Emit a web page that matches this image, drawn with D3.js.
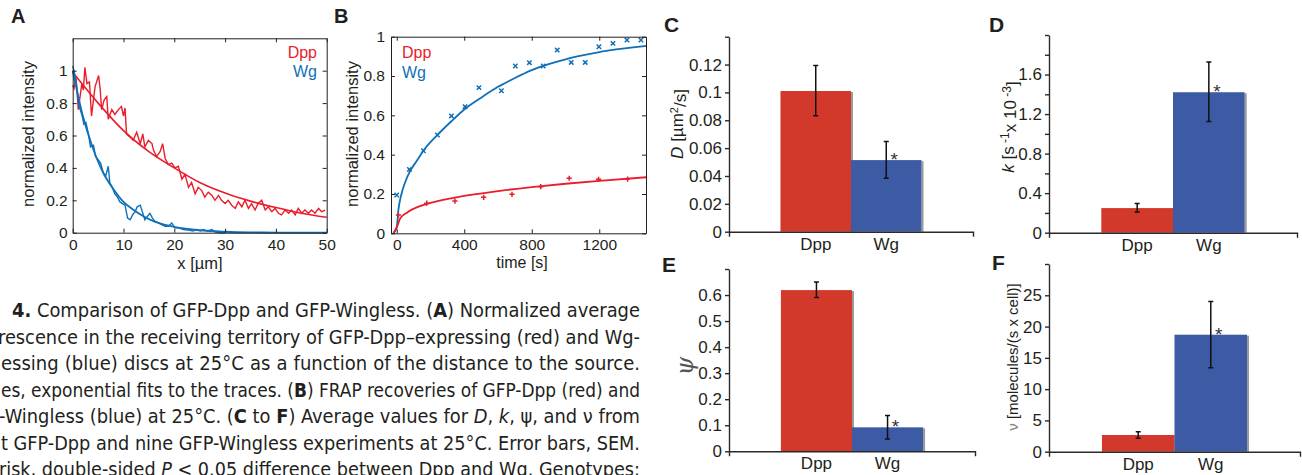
<!DOCTYPE html>
<html>
<head>
<meta charset="utf-8">
<script src="https://cdn.jsdelivr.net/npm/d3@7"></script>
<style>
body { margin: 0; background: #fff; }
svg text { font-family: "Liberation Sans", Arial, Helvetica, sans-serif; fill: #231f20; }
svg text.cap { font-family: "Liberation Sans Narrow", "DejaVu Sans Condensed", "Roboto", sans-serif; }
</style>
</head>
<body>
<svg id="fig" width="1302" height="475"></svg>
<script>
// ---- panel A: intensity profiles [x in um, normalized intensity]
var profDpp = [[0,0.91],[0.26,0.89],[0.66,0.96],[1.1,0.76],[1.8,0.92],[2.1,0.88],[2.4,1.02],[2.8,0.92],[3.3,0.93],[3.7,0.72],
  [4.4,0.90],[5.1,0.97],[5.4,0.89],[5.7,0.76],[6.2,0.82],[6.7,0.84],[7.0,0.70],[7.7,0.76],[8.3,0.73],[9.0,0.76],
  [9.6,0.78],[10.0,0.72],[10.3,0.77],[10.6,0.61],[11.3,0.59],[11.9,0.57],[12.6,0.62],[13.3,0.55],[13.8,0.61],[14.2,0.53],
  [14.9,0.57],[15.6,0.55],[15.9,0.51],[16.5,0.47],[17.2,0.50],[17.7,0.55],[18.2,0.46],[18.8,0.42],[19.5,0.43],[20.1,0.40],
  [20.8,0.41],[21.5,0.33],[22.1,0.36],[22.8,0.28],[23.4,0.31],[24.1,0.24],[24.7,0.28],[25.4,0.26],[26.0,0.22],[26.7,0.25],
  [27.4,0.23],[28.0,0.20],[28.7,0.23],[29.3,0.20],[30.0,0.18],[30.6,0.20],[31.3,0.17],[32.0,0.15],[32.6,0.19],[33.3,0.16],
  [33.9,0.20],[34.6,0.15],[35.2,0.18],[35.9,0.14],[36.5,0.18],[37.2,0.20],[37.9,0.14],[38.5,0.16],[39.2,0.13],[39.8,0.15],
  [40.5,0.12],[41.1,0.11],[41.8,0.14],[42.5,0.12],[43.1,0.14],[43.8,0.11],[44.4,0.15],[45.1,0.12],[45.7,0.14],[46.4,0.12],
  [47.0,0.14],[47.7,0.12],[48.4,0.15],[49.0,0.13],[49.7,0.14]];
var profWg = [[0,1.03],[0.26,1.0],[0.8,0.90],[1.25,0.78],[1.8,0.73],[2.2,0.67],[2.6,0.68],[3.1,0.61],[3.5,0.53],[4.1,0.54],
  [4.5,0.47],[5.0,0.45],[5.5,0.43],[6.0,0.37],[6.5,0.35],[7.0,0.41],[7.3,0.31],[7.9,0.27],[8.3,0.24],[8.8,0.22],
  [9.3,0.19],[9.8,0.18],[10.3,0.17],[10.8,0.09],[11.3,0.08],[11.8,0.11],[12.3,0.13],[12.7,0.16],[13.3,0.17],[13.8,0.12],
  [14.2,0.08],[14.7,0.10],[15.2,0.12],[15.7,0.09],[16.2,0.07],[16.9,0.06],[17.5,0.05],[18.2,0.04],[18.8,0.04],[19.5,0.06],
  [20.1,0.03],[20.8,0.03],[21.8,0.02],[22.8,0.016],[23.7,0.01],[24.4,0.02],[25.1,0.01],[25.7,0.02],[26.4,0.01],[27.4,0.02],
  [28.0,0.005],[29.0,0],[30.0,0]];
// exponential fits
var fitDpp = [[0,0.99],[5,0.80],[10,0.63],[15,0.50],[20,0.40],[25,0.31],[30,0.245],[35,0.195],[40,0.155],[45,0.12],[50,0.095]];
var fitWg = [[0,1.0],[2,0.72],[4,0.52],[6,0.37],[8,0.27],[10,0.19],[12,0.14],[14,0.10],[16,0.07],[18,0.05],[20,0.036],
  [25,0.015],[30,0.006],[35,0.002],[40,0.001],[50,0]];
var aXTicks = [0, 10, 20, 30, 40, 50];
var intTicks = [0, 0.2, 0.4, 0.6, 0.8, 1];

// ---- panel B: FRAP recovery [time s, normalized intensity]
var frapWg = [[0,0.195],[75,0.325],[158,0.42],[241,0.50],[324,0.597],[405,0.644],[487,0.741],[620,0.725],[703,0.851],
  [786,0.868],[868,0.851],[951,0.932],[1034,0.869],[1117,0.869],[1198,0.949],[1281,0.966],[1364,0.983],[1447,0.983]];
var frapDpp = [[10,0.093],[178,0.153],[345,0.164],[515,0.183],[683,0.198],[853,0.237],[1022,0.28],[1196,0.275],[1368,0.276]];
var frapFitWg = [[-20,0],[0,0.03],[10,0.12],[25,0.19],[50,0.26],[75,0.31],[120,0.37],[158,0.42],[241,0.50],[324,0.57],[400,0.63],
  [500,0.69],[600,0.745],[700,0.79],[800,0.83],[900,0.86],[1000,0.885],[1100,0.905],[1200,0.922],[1300,0.935],[1400,0.946],[1477,0.953]];
var frapFitDpp = [[-20,0.0],[0,0.03],[20,0.075],[60,0.105],[100,0.125],[200,0.155],[400,0.19],[600,0.215],[800,0.235],
  [1000,0.252],[1200,0.267],[1477,0.285]];
var bXTicks = [0, 400, 800, 1200];

// ---- panels C-F: mean +/- SEM
var cats = ["Dpp", "Wg"];
var signif = [false, true];
var dMean = [0.101, 0.0514], dLo = [0.0833, 0.0384], dHi = [0.1193, 0.0648];
var kMean = [0.249, 1.421], kLo = [0.209, 1.125], kHi = [0.296, 1.728];
var psiMean = [0.619, 0.092], psiLo = [0.591, 0.047], psiHi = [0.650, 0.137];
var nuMean = [2.67, 18.7], nuLo = [2.14, 13.4], nuHi = [3.2, 24.0];
var dTicks = [0, 0.02, 0.04, 0.06, 0.08, 0.1, 0.12, 0.14], dLabels = [0, 0.02, 0.04, 0.06, 0.08, 0.1, 0.12];
var kTicks = [0, 0.2, 0.4, 0.6, 0.8, 1.0, 1.2, 1.4, 1.6, 1.8, 2.0], kLabels = [0, 0.4, 0.8, 1.2, 1.6];
var psiTicks = [0, 0.1, 0.2, 0.3, 0.4, 0.5, 0.6, 0.7], psiLabels = [0, 0.1, 0.2, 0.3, 0.4, 0.5, 0.6];
var nuTicks = [0, 5, 10, 15, 20, 25, 30], nuLabels = [0, 5, 10, 15, 20, 25];

var captionLines = [
  [["4.", "b"], [" Comparison of GFP-Dpp and GFP-Wingless. ("], ["A", "b"], [") Normalized average"]],
  [["rescence in the receiving territory of GFP-Dpp\u2013expressing (red) and Wg-"]],
  [["essing (blue) discs at 25\u00b0C as a function of the distance to the source."]],
  [["es, exponential fits to the traces. ("], ["B", "b"], [") FRAP recoveries of GFP-Dpp (red) and"]],
  [["-Wingless (blue) at 25\u00b0C. ("], ["C", "b"], [" to "], ["F", "b"], [") Average values for "], ["D", "i"], [", "], ["k", "i"], [", \u03c8, and \u03bd from"]],
  [["t GFP-Dpp and nine GFP-Wingless experiments at 25\u00b0C. Error bars, SEM."]],
  [["risk, double-sided "], ["P", "i"], [" < 0.05 difference between Dpp and Wg. Genotypes:"]]
];
var captionStart = [12, -2, 1, 1, -1, 1, -1];

var svg = d3.select("#fig");
var red = "#ea1d2c", blue = "#0f70b8";
var barRed = "#d2392b", barBlue = "#3d5aa4";
var ink = "#231f20";

function fmtNum(d) { return String(+d.toFixed(3)); }

// box axes with inward ticks (panels A, B)
function boxAxes(x, y, xt, yt, ypad) {
  var xr = x.range(), yr = y.range();
  var gb = svg.append("g").attr("transform", "translate(0," + yr[0] + ")")
    .call(d3.axisBottom(x).tickValues(xt).tickSizeInner(-4).tickSizeOuter(0).tickPadding(6).tickFormat(fmtNum));
  var gt = svg.append("g").attr("transform", "translate(0," + yr[1] + ")")
    .call(d3.axisTop(x).tickValues(xt).tickSizeInner(-4).tickSizeOuter(0).tickFormat(""));
  var gl = svg.append("g").attr("transform", "translate(" + xr[0] + ",0)")
    .call(d3.axisLeft(y).tickValues(yt).tickSizeInner(-4).tickSizeOuter(0).tickPadding(ypad).tickFormat(fmtNum));
  var gr = svg.append("g").attr("transform", "translate(" + xr[1] + ",0)")
    .call(d3.axisRight(y).tickValues(yt).tickSizeInner(-4).tickSizeOuter(0).tickFormat(""));
  [gb, gt, gl, gr].forEach(function(g) {
    g.attr("font-size", 15.5).attr("color", ink);
    g.selectAll("path, line").attr("stroke-width", 1);
  });
}

// ---------------- Panel A
var xA = d3.scaleLinear().domain([0, 50]).range([72.7, 326.7]);
var yA = d3.scaleLinear().domain([0, 1.2]).range([232.7, 38.3]);
var lineA = d3.line().x(function(d) { return xA(d[0]); }).y(function(d) { return yA(d[1]); });
var fitLineA = d3.line().curve(d3.curveMonotoneX).x(function(d) { return xA(d[0]); }).y(function(d) { return yA(d[1]); });

svg.append("path").datum(profDpp).attr("d", lineA).attr("fill", "none").attr("stroke", red).attr("stroke-width", 1.4);
svg.append("path").datum(fitDpp).attr("d", fitLineA).attr("fill", "none").attr("stroke", red).attr("stroke-width", 1.6);
svg.append("path").datum(profWg).attr("d", lineA).attr("fill", "none").attr("stroke", blue).attr("stroke-width", 1.4);
svg.append("path").datum(fitWg).attr("d", fitLineA).attr("fill", "none").attr("stroke", blue).attr("stroke-width", 1.8);
boxAxes(xA, yA, aXTicks, intTicks, 5);

svg.append("text").attr("x", 317).attr("y", 58).attr("text-anchor", "end").attr("font-size", 16).style("fill", red).text("Dpp");
svg.append("text").attr("x", 317).attr("y", 77).attr("text-anchor", "end").attr("font-size", 16).style("fill", blue).text("Wg");
svg.append("text").attr("x", 200).attr("y", 269).attr("text-anchor", "middle").attr("font-size", 16.5).text("x [\u00b5m]");
svg.append("text").attr("transform", "translate(28,134) rotate(-90)").attr("dy", "0.35em")
  .attr("text-anchor", "middle").attr("font-size", 16.5).text("normalized intensity");
svg.append("text").attr("x", 11).attr("y", 23).attr("font-size", 20).attr("font-weight", "bold").text("A");

// ---------------- Panel B
var xB = d3.scaleLinear().domain([-34, 1477]).range([391, 646]);
var yB = d3.scaleLinear().domain([0, 1]).range([233.3, 36.7]);
var fitLineB = d3.line().curve(d3.curveMonotoneX).x(function(d) { return xB(d[0]); }).y(function(d) { return yB(d[1]); });

svg.append("path").datum(frapFitWg).attr("d", fitLineB).attr("fill", "none").attr("stroke", blue).attr("stroke-width", 1.8);
svg.append("path").datum(frapFitDpp).attr("d", fitLineB).attr("fill", "none").attr("stroke", red).attr("stroke-width", 1.8);

svg.append("g").selectAll("path").data(frapWg).enter().append("path")
  .attr("transform", function(d) { return "translate(" + xB(d[0]) + "," + yB(d[1]) + ")"; })
  .attr("d", "M-2.2,-2.2L2.2,2.2M-2.2,2.2L2.2,-2.2").attr("stroke", blue).attr("stroke-width", 1.5);
svg.append("g").selectAll("path").data(frapDpp).enter().append("path")
  .attr("transform", function(d) { return "translate(" + xB(d[0]) + "," + yB(d[1]) + ")"; })
  .attr("d", "M-2.6,0H2.6M0,-2.6V2.6").attr("stroke", red).attr("stroke-width", 1.5);
boxAxes(xB, yB, bXTicks, intTicks, 6);

svg.append("text").attr("x", 402).attr("y", 58).attr("font-size", 16).style("fill", red).text("Dpp");
svg.append("text").attr("x", 402).attr("y", 78).attr("font-size", 16).style("fill", blue).text("Wg");
svg.append("text").attr("x", 522).attr("y", 268).attr("text-anchor", "middle").attr("font-size", 16).text("time [s]");
svg.append("text").attr("transform", "translate(352,134) rotate(-90)").attr("dy", "0.35em")
  .attr("text-anchor", "middle").attr("font-size", 16.5).text("normalized intensity");
svg.append("text").attr("x", 334).attr("y", 23).attr("font-size", 20).attr("font-weight", "bold").text("B");

// ---------------- Bar panels
function barPanel(p) {
  var x = d3.scaleBand().domain(cats).range([p.x0, p.x1]).paddingInner(0).paddingOuter(0.73);
  var y = d3.scaleLinear().domain([0, p.max]).range([p.y0, p.y1]);
  var g = svg.append("g");
  cats.forEach(function(c, i) {
    g.append("rect").attr("x", x(c) + x.bandwidth()).attr("y", y(p.mean[i]) + 1)
      .attr("width", 2).attr("height", y(0) - y(p.mean[i]) - 1).attr("fill", "#9a9a9a");
    g.append("rect").attr("x", x(c)).attr("y", y(p.mean[i]))
      .attr("width", x.bandwidth()).attr("height", y(0) - y(p.mean[i])).attr("fill", i == 0 ? barRed : barBlue);
  });
  cats.forEach(function(c, i) {
    var cx = x(c) + x.bandwidth() / 2;
    g.append("path")
      .attr("d", "M" + (cx - 2.5) + "," + y(p.hi[i]) + "H" + (cx + 2.5) + "M" + cx + "," + y(p.hi[i]) + "V" + y(p.lo[i]) +
        "M" + (cx - 2.5) + "," + y(p.lo[i]) + "H" + (cx + 2.5))
      .attr("stroke", "#111").attr("stroke-width", 1.5).attr("fill", "none");
    if (signif[i]) {
      g.append("text").attr("x", cx + 8).attr("y", y(p.mean[i]) + 6).attr("text-anchor", "middle")
        .attr("font-size", 19).style("fill", "#333").text("*");
    }
  });
  var ga = svg.append("g").attr("transform", "translate(" + p.x0 + ",0)")
    .call(d3.axisLeft(y).tickValues(p.ticks).tickSizeInner(4).tickSizeOuter(0).tickPadding(3)
      .tickFormat(function(d) { return p.labels.indexOf(d) >= 0 ? fmtNum(d) : ""; }));
  var gx = svg.append("g").attr("transform", "translate(0," + p.y0 + ")")
    .call(d3.axisBottom(x).tickSizeInner(0).tickSizeOuter(5).tickPadding(6));
  [ga, gx].forEach(function(a) {
    a.attr("font-size", 17).attr("color", "#2a2a2a");
    a.selectAll("path, line").attr("stroke-width", 1.4);
  });
}

barPanel({x0: 729, x1: 973, y0: 231.7, y1: 36.7, max: 0.14, mean: dMean, lo: dLo, hi: dHi, ticks: dTicks, labels: dLabels});
barPanel({x0: 1049, x1: 1297, y0: 232.7, y1: 35, max: 2.0, mean: kMean, lo: kLo, hi: kHi, ticks: kTicks, labels: kLabels});
barPanel({x0: 729, x1: 975, y0: 451.3, y1: 269, max: 0.7, mean: psiMean, lo: psiLo, hi: psiHi, ticks: psiTicks, labels: psiLabels});
barPanel({x0: 1049, x1: 1300, y0: 451.7, y1: 264, max: 30, mean: nuMean, lo: nuLo, hi: nuHi, ticks: nuTicks, labels: nuLabels});

// axis titles of bar panels
var tC = svg.append("text").attr("transform", "translate(677,124) rotate(-90)").attr("dy", "0.35em")
  .attr("text-anchor", "middle").attr("font-size", 17);
tC.append("tspan").attr("font-style", "italic").text("D");
tC.append("tspan").text(" [\u00b5m");
tC.append("tspan").attr("dy", "-0.45em").attr("font-size", 11).text("2");
tC.append("tspan").attr("dy", "0.45em").text("/s]");

var tD = svg.append("text").attr("transform", "translate(1008,127) rotate(-90)").attr("dy", "0.35em")
  .attr("text-anchor", "middle").attr("font-size", 17);
tD.append("tspan").attr("font-style", "italic").text("k");
tD.append("tspan").text(" [s");
tD.append("tspan").attr("dy", "-0.45em").attr("font-size", 12).text(" -1");
tD.append("tspan").attr("dy", "0.45em").text("x 10");
tD.append("tspan").attr("dy", "-0.45em").attr("font-size", 12).text(" -3");
tD.append("tspan").attr("dy", "0.45em").text("]");

svg.append("text").attr("transform", "translate(685,366) rotate(-90)").attr("dy", "0.35em")
  .attr("text-anchor", "middle").attr("font-size", 24).attr("font-style", "italic")
  .style("font-family", "'DejaVu Serif', 'Liberation Serif', serif").style("fill", "#555").text("\u03c8");

var tF = svg.append("text").attr("transform", "translate(1013,357) rotate(-90)").attr("dy", "0.35em")
  .attr("text-anchor", "middle").attr("font-size", 15);
tF.append("tspan").style("fill", "#888").text("\u03bd");
tF.append("tspan").text(" [molecules/(s x cell)]");

svg.append("text").attr("x", 664).attr("y", 32).attr("font-size", 21).attr("font-weight", "bold").text("C");
svg.append("text").attr("x", 989).attr("y", 32).attr("font-size", 21).attr("font-weight", "bold").text("D");
svg.append("text").attr("x", 662).attr("y", 272).attr("font-size", 21).attr("font-weight", "bold").text("E");
svg.append("text").attr("x", 992).attr("y", 270).attr("font-size", 21).attr("font-weight", "bold").text("F");

// ---------------- caption, justified by widening word spaces
var capRight = 640;
captionLines.forEach(function(segs, i) {
  var t = svg.append("text").attr("class", "cap").attr("x", captionStart[i]).attr("y", 317 + i * 26.5)
    .attr("font-size", 20);
  segs.forEach(function(s) {
    var ts = t.append("tspan").text(s[0]);
    if (s[1] == "b") ts.attr("font-weight", "bold");
    if (s[1] == "i") ts.attr("font-style", "italic");
  });
  var full = segs.map(function(s) { return s[0]; }).join("");
  var gaps = full.split(" ").length - 1;
  var natural = t.node().getComputedTextLength();
  var target = capRight - captionStart[i];
  if (natural < target) {
    t.attr("word-spacing", (target - natural) / gaps);
  } else {
    t.attr("textLength", target).attr("lengthAdjust", "spacingAndGlyphs");
  }
});
</script>
</body>
</html>
